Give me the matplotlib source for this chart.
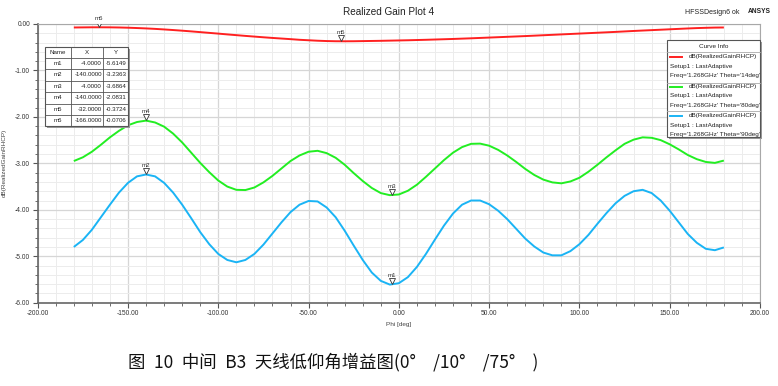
import matplotlib
matplotlib.use('Agg')
import matplotlib.pyplot as plt
import matplotlib.transforms as mtransforms
from matplotlib.patches import Rectangle
from matplotlib.ticker import MultipleLocator, FormatStrFormatter

W, H = 778, 386

# Phi sweep [deg]
phi = list(range(-180, 181, 5))

# dB(RealizedGainRHCP), Theta='14deg'
gain_14 = [-0.075, -0.073, -0.071, -0.071, -0.072, -0.075, -0.080, -0.087, -0.095, -0.105,
           -0.117, -0.130, -0.144, -0.159, -0.175, -0.191, -0.207, -0.224, -0.240, -0.256,
           -0.271, -0.286, -0.300, -0.313, -0.326, -0.340, -0.350, -0.360, -0.367, -0.371,
           -0.372, -0.371, -0.368, -0.365, -0.362, -0.358, -0.354, -0.350, -0.345, -0.340,
           -0.334, -0.328, -0.322, -0.315, -0.308, -0.300, -0.292, -0.284, -0.276, -0.268,
           -0.260, -0.251, -0.242, -0.233, -0.224, -0.215, -0.206, -0.197, -0.188, -0.179,
           -0.170, -0.160, -0.150, -0.141, -0.132, -0.123, -0.114, -0.105, -0.096, -0.088,
           -0.082, -0.077, -0.075]

# dB(RealizedGainRHCP), Theta='80deg'
gain_80 = [-2.95, -2.87, -2.75, -2.60, -2.44, -2.30, -2.18, -2.11, -2.08, -2.12,
           -2.21, -2.36, -2.55, -2.77, -2.99, -3.19, -3.37, -3.50, -3.57, -3.575,
           -3.52, -3.41, -3.27, -3.11, -2.95, -2.83, -2.75, -2.73, -2.78, -2.88,
           -3.03, -3.21, -3.38, -3.53, -3.64, -3.685, -3.67, -3.59, -3.46, -3.29,
           -3.11, -2.93, -2.77, -2.65, -2.58, -2.575, -2.62, -2.71, -2.83, -2.97,
           -3.12, -3.25, -3.35, -3.41, -3.43, -3.39, -3.31, -3.18, -3.03, -2.87,
           -2.72, -2.58, -2.49, -2.44, -2.45, -2.50, -2.59, -2.70, -2.82, -2.91,
           -2.97, -2.99, -2.94]

# dB(RealizedGainRHCP), Theta='90deg'
gain_90 = [-4.80, -4.65, -4.43, -4.16, -3.89, -3.63, -3.42, -3.28, -3.24, -3.28,
           -3.42, -3.63, -3.89, -4.18, -4.48, -4.74, -4.95, -5.08, -5.13, -5.08,
           -4.95, -4.75, -4.51, -4.27, -4.05, -3.89, -3.81, -3.82, -3.95, -4.16,
           -4.45, -4.77, -5.08, -5.35, -5.53, -5.61, -5.58, -5.45, -5.23, -4.95,
           -4.64, -4.34, -4.08, -3.89, -3.80, -3.80, -3.88, -4.02, -4.20, -4.41,
           -4.62, -4.79, -4.92, -4.98, -4.98, -4.89, -4.74, -4.54, -4.30, -4.07,
           -3.86, -3.70, -3.60, -3.57, -3.64, -3.80, -4.02, -4.27, -4.52, -4.71,
           -4.84, -4.87, -4.81]

curve_labels = ["Theta='14deg'", "Theta='80deg'", "Theta='90deg'"]
curve_colors = ['#ff2020', '#22ee22', '#1ab4f5']

# marker table
mk_names = ['m1', 'm2', 'm3', 'm4', 'm5', 'm6']
mk_x = [-4.0, -140.0, -4.0, -140.0, -32.0, -166.0]
mk_y = [-5.6149, -3.2363, -3.6864, -2.0831, -0.3724, -0.0706]

plt.rcParams['font.family'] = ['Liberation Sans', 'DejaVu Sans']

fig = plt.figure(figsize=(W / 100, H / 100), dpi=100)
ax = fig.add_axes([37.7 / W, 1 - 302.7 / H, (760 - 37.7) / W, (302.7 - 24) / H])

for g, c in zip([gain_14, gain_80, gain_90], curve_colors):
    ax.plot(phi, g, color=c, lw=1.4, solid_capstyle='butt', zorder=3)

ax.set_xlim(-200, 200)
ax.set_ylim(-6, 0)
ax.xaxis.set_major_locator(MultipleLocator(50))
ax.xaxis.set_minor_locator(MultipleLocator(10))
ax.yaxis.set_major_locator(MultipleLocator(1))
ax.yaxis.set_minor_locator(MultipleLocator(0.2))
ax.xaxis.set_major_formatter(FormatStrFormatter('%.2f'))
ax.yaxis.set_major_formatter(FormatStrFormatter('%.2f'))
ax.grid(which='major', color='#d6d6d6', lw=0.9)
ax.grid(which='minor', color='#ececec', lw=0.7)
ax.set_axisbelow(True)
ax.tick_params(which='both', direction='out', colors='#555555', labelcolor='#333333',
               labelsize=4.8, top=False, right=False)
ax.tick_params(which='major', length=3.5, width=0.8, pad=2)
ax.tick_params(which='minor', length=2, width=0.6)
for s in ['left', 'bottom']:
    ax.spines[s].set_color('#666666')
    ax.spines[s].set_linewidth(1.2)
for s in ['top', 'right']:
    ax.spines[s].set_color('#a8a8a8')
    ax.spines[s].set_linewidth(0.8)

ax.set_xlabel('Phi [deg]', fontsize=4.6, color='#444444', labelpad=3)
ax.set_ylabel('dB(RealizedGainRHCP)', fontsize=4.6, color='#444444', labelpad=6)

# markers on the curves
for n, x, y in zip(mk_names, mk_x, mk_y):
    tr = mtransforms.offset_copy(ax.transData, fig=fig, x=0, y=2.4, units='points')
    ax.plot([x], [y], marker='v', ms=4.4, mfc='white', mec='#333333', mew=0.6,
            transform=tr, zorder=5)
    ax.annotate(n, (x, y), xytext=(0, 4.6), textcoords='offset points',
                ha='center', va='bottom', fontsize=4.4, color='#333333', zorder=5)

# overlay in pixel coordinates for titles, table and legend
ov = fig.add_axes([0, 0, 1, 1], zorder=10)
ov.set_xlim(0, W)
ov.set_ylim(H, 0)
ov.axis('off')

ov.text(389, 12, 'Realized Gain Plot 4', ha='center', va='center', fontsize=7.2, color='#222222')
ov.text(685, 12, 'HFSSDesign6 ok', ha='left', va='center', fontsize=5, color='#222222')
ov.text(748, 11.5, 'ANSYS', ha='left', va='center', fontsize=4.8, weight='bold', color='#222222')

# marker table
tx0, tx1, ty0 = 45, 128, 46.5
row_h = 11.4
cols = [45, 70.7, 103.3, 128]
nrow = len(mk_names) + 1
ty1 = ty0 + row_h * nrow
ov.add_patch(Rectangle((tx0 + 2, ty0 + 2), tx1 - tx0, ty1 - ty0, fc='#9a9a9a', ec='none'))
ov.add_patch(Rectangle((tx0, ty0), tx1 - tx0, ty1 - ty0, fc='white', ec='#555555', lw=0.8))
for cx in cols[1:-1]:
    ov.plot([cx, cx], [ty0, ty1], color='#555555', lw=0.6)
for r in range(1, nrow):
    ov.plot([tx0, tx1], [ty0 + r * row_h] * 2, color='#555555', lw=0.6)
header = ['Name', 'X', 'Y']
for j, hname in enumerate(header):
    ov.text((cols[j] + cols[j + 1]) / 2, ty0 + row_h / 2, hname, ha='center', va='center',
            fontsize=4.4, color='#222222')
for i, (n, x, y) in enumerate(zip(mk_names, mk_x, mk_y)):
    yc = ty0 + row_h * (i + 1.5)
    ov.text((cols[0] + cols[1]) / 2, yc, n, ha='center', va='center', fontsize=4.4, color='#222222')
    ov.text(cols[2] - 1.5, yc, '%.4f' % x, ha='right', va='center', fontsize=4.4, color='#222222')
    ov.text(cols[3] - 1.5, yc, '%.4f' % y, ha='right', va='center', fontsize=4.4, color='#222222')

# curve info legend
lx0, lx1, ly0, ly1 = 667, 760, 39.5, 136.5
ov.add_patch(Rectangle((lx0 + 2, ly0 + 2), lx1 - lx0, ly1 - ly0, fc='#9a9a9a', ec='none'))
ov.add_patch(Rectangle((lx0, ly0), lx1 - lx0, ly1 - ly0, fc='white', ec='#555555', lw=0.8))
ov.text((lx0 + lx1) / 2, 46, 'Curve Info', ha='center', va='center', fontsize=4.6, color='#222222')
seps = [51.7, 82.7, 111]
for sy in seps:
    ov.plot([lx0, lx1], [sy, sy], color='#aaaaaa', lw=0.6)
for k, (lab, c) in enumerate(zip(curve_labels, curve_colors)):
    y0 = [56.7, 86.5, 115.5][k]
    ov.plot([670, 682], [y0, y0], color=c, lw=1.4)
    ov.text(757, y0, 'dB(RealizedGainRHCP)', ha='right', va='center', fontsize=4.6, color='#222222')
    ov.text(670, y0 + 9.5, 'Setup1 : LastAdaptive', ha='left', va='center', fontsize=4.6, color='#222222')
    ov.text(670, y0 + 19, "Freq='1.268GHz' " + lab, ha='left', va='center', fontsize=4.6, color='#222222')

# caption (en spaces mimic the half-width spacing of the original)
sp = '\u2002'
caption = ('图' + sp + '10' + sp + '中间' + sp + 'B3' + sp + '天线低仰角增益图(0°' + sp + sp
           + '/10°' + sp + sp + '/75°' + sp + sp + ')')
ov.text(128, 362, caption, ha='left', va='center',
        fontsize=12.5, color='#111111', family=['Noto Sans CJK SC', 'DejaVu Sans'])

fig.savefig('out.png', dpi=100)
